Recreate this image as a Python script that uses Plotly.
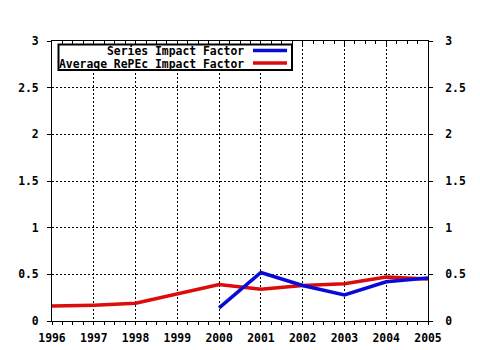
import plotly.graph_objects as go

years_avg = [1996, 1997, 1998, 1999, 2000, 2001, 2002, 2003, 2004, 2005]
avg_repec = [0.16, 0.17, 0.19, 0.29, 0.39, 0.34, 0.38, 0.40, 0.47, 0.45]
years_series = [2000, 2001, 2002, 2003, 2004, 2005]
series_if = [0.14, 0.52, 0.38, 0.28, 0.42, 0.46]
y_ticks = [0, 0.5, 1, 1.5, 2, 2.5, 3]
y_ticklabels = ["0", "0.5", "1", "1.5", "2", "2.5", "3"]
legend_names = ["Series Impact Factor", "Average RePEc Impact Factor"]

BLUE = "#0a0ad8"
RED = "#dc0c0c"
FONT = dict(family="DejaVu Sans Mono", size=11.4, color="black", weight="bold")

W, H = 480, 350
L, R, T, B = 52, 52, 41, 29
PW, PH = W - L - R, H - T - B


def px(x):
    return (x - L) / PW


def py(y):
    return (H - B - y) / PH


fig = go.Figure()
fig.add_trace(go.Scatter(x=years_avg, y=avg_repec, mode="lines", name=legend_names[1],
                         line=dict(color=RED, width=3.5), showlegend=False,
                         xaxis="x", yaxis="y"))
fig.add_trace(go.Scatter(x=years_series, y=series_if, mode="lines", name=legend_names[0],
                         line=dict(color=BLUE, width=3.5), showlegend=False,
                         xaxis="x2", yaxis="y2"))

axis_common = dict(showline=True, linecolor="black", linewidth=1, zeroline=False,
                   tickcolor="black", tickfont=FONT, automargin=False)

fig.update_layout(
    width=W, height=H,
    margin=dict(l=L, r=R, t=T, b=B, pad=0),
    paper_bgcolor="white", plot_bgcolor="white",
    showlegend=False,
    xaxis=dict(range=[1996, 2005], tickmode="array", tickvals=years_avg,
               ticktext=[str(y) for y in years_avg], ticks="outside", ticklen=3,
               ticklabelstandoff=3,
               showgrid=True, gridcolor="black", gridwidth=1, griddash="2px,2px",
               minor=dict(ticks="outside", dtick=0.25, tick0=1996, ticklen=3,
                          tickcolor="black", showgrid=False),
               **axis_common),
    xaxis2=dict(range=[1996, 2005], overlaying="x", side="top", anchor="y2",
                tickmode="array", tickvals=years_avg, showticklabels=False,
                ticks="inside", ticklen=4, showgrid=False,
                minor=dict(ticks="inside", dtick=0.25, tick0=1996, ticklen=3,
                           tickcolor="black", showgrid=False),
                **axis_common),
    yaxis=dict(range=[0, 3], tickmode="array", tickvals=y_ticks, ticktext=y_ticklabels,
               ticks="outside", ticklen=4, ticklabelstandoff=6,
               showgrid=True, gridcolor="black",
               gridwidth=1, griddash="2px,2px", **axis_common),
    yaxis2=dict(range=[0, 3], overlaying="y", side="right", anchor="x2",
                tickmode="array", tickvals=y_ticks, ticktext=y_ticklabels,
                ticks="outside", ticklen=4, showgrid=False, ticklabelstandoff=10,
                **axis_common),
)

# manual legend (box, right-aligned labels, line samples on the right)
fig.add_shape(type="rect", xref="paper", yref="paper",
              x0=px(58.5), x1=px(292), y0=py(70), y1=py(44.5),
              line=dict(color="black", width=2), fillcolor="white", layer="above")
for name, color, yy in [(legend_names[0], BLUE, 51.5), (legend_names[1], RED, 64)]:
    fig.add_annotation(xref="paper", yref="paper", x=px(245), y=py(yy), text=name,
                       showarrow=False, xanchor="right", yanchor="middle", font=FONT,
                       borderpad=0, height=12)
    fig.add_shape(type="line", xref="paper", yref="paper", x0=px(253), x1=px(287),
                  y0=py(yy - 1), y1=py(yy - 1), line=dict(color=color, width=3.5))

fig.write_html("out.html")
